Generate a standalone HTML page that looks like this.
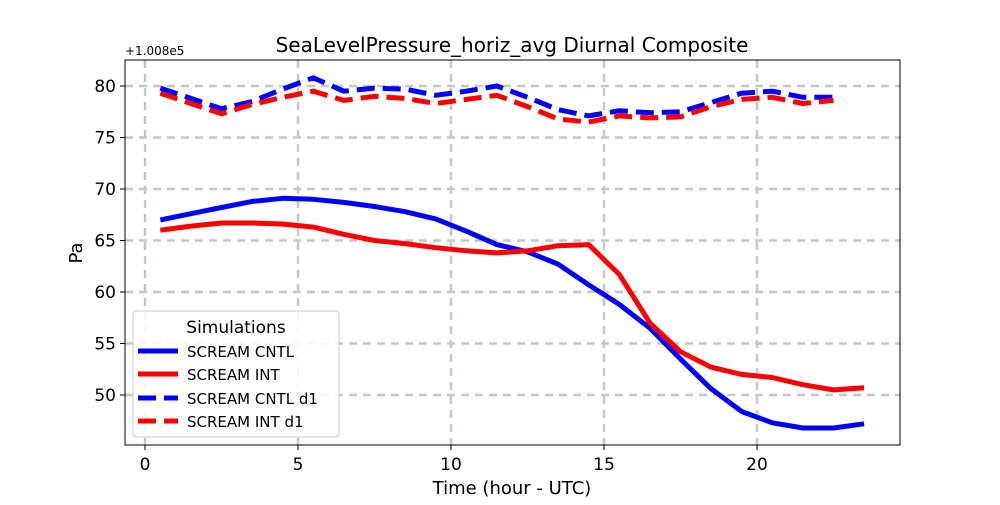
<!DOCTYPE html>
<html><head><meta charset="utf-8"><style>
body{margin:0;background:#fff;font-family:"Liberation Sans","DejaVu Sans",sans-serif}
svg text{font-family:"DejaVu Sans","Liberation Sans",sans-serif}
</style></head><body>
<svg id="c" width="1000" height="500" xmlns="http://www.w3.org/2000/svg"></svg>
<script>
const hours=[0.5,1.5,2.5,3.5,4.5,5.5,6.5,7.5,8.5,9.5,10.5,11.5,12.5,13.5,14.5,15.5,16.5,17.5,18.5,19.5,20.5,21.5,22.5,23.5];
const cntl=[67.0,67.6,68.2,68.8,69.1,69.0,68.7,68.3,67.8,67.1,65.9,64.6,63.9,62.7,60.7,58.8,56.5,53.5,50.6,48.4,47.3,46.8,46.8,47.2];
const intr=[66.0,66.4,66.7,66.7,66.6,66.3,65.6,65.0,64.7,64.3,64.0,63.8,64.0,64.5,64.6,61.7,57.0,54.2,52.7,52.0,51.7,51.0,50.5,50.7];
const cntlD1=[79.8,78.8,77.8,78.5,79.7,80.8,79.5,79.8,79.7,79.1,79.5,80.0,78.9,77.7,77.1,77.6,77.4,77.5,78.4,79.3,79.5,78.9,78.9];
const intD1=[79.3,78.3,77.3,78.2,78.9,79.5,78.6,79.0,78.8,78.3,78.7,79.1,78.0,76.8,76.5,77.1,76.9,77.0,78.0,78.7,78.9,78.3,78.6];
const xTicks=[0,5,10,15,20];
const yTicks=[50,55,60,65,70,75,80];
const NS='http://www.w3.org/2000/svg';
const svg=document.getElementById('c');
const L=125,R=900,T=60,B=445;
const X=h=>145+h*30.6;
const Y=v=>86+(80-v)*10.3;
function el(t,a,p){const e=document.createElementNS(NS,t);for(const k in a)e.setAttribute(k,a[k]);(p||svg).appendChild(e);return e;}
xTicks.forEach(t=>{
 const g=el('line',{x1:X(t),x2:X(t),y1:T,y2:B,stroke:'#c0caca',"stroke-width":2.5,"stroke-dasharray":"8,6"});
 
 
 const tk=el('line',{x1:X(t),x2:X(t),y1:B,y2:B+5,stroke:'#000'});
 
 
 const tx=el('text',{x:X(t),y:B+25,"text-anchor":"middle","font-size":17});
 tx.textContent=t;
 
 
});
yTicks.forEach(t=>{
 const g=el('line',{x1:L,x2:R,y1:Y(t),y2:Y(t),stroke:'#c0caca',"stroke-width":2.5,"stroke-dasharray":"8,6"});
 
 
 const tk=el('line',{x1:L-5,x2:L,y1:Y(t),y2:Y(t),stroke:'#000'});
 
 
 const tx=el('text',{x:L-9,y:Y(t)+6,"text-anchor":"end","font-size":17});
 tx.textContent=t;
 
 
});
function line(vals,color,dash,name){
 const d=vals.map((v,i)=>(i?'L':'M')+X(hours[i]).toFixed(1)+','+Y(v).toFixed(1)).join(' ');
 const p=el('path',{d:d,fill:'none',stroke:color,"stroke-width":5,"stroke-linejoin":"round"});
 if(dash)p.setAttribute('stroke-dasharray','18,8');
 
 
}
line(cntl,'#0000ff',false,'scream-cntl-line');
line(intr,'#ff0000',false,'scream-int-line');
line(cntlD1,'#0000ff',true,'scream-cntl-d1-line');
line(intD1,'#ff0000',true,'scream-int-d1-line');
const fr=el('rect',{x:L,y:T,width:R-L,height:B-T,fill:'none',stroke:'#000',"stroke-width":1});


</script>
<svg width="1000" height="500" style="position:absolute;left:0;top:0" xmlns="http://www.w3.org/2000/svg">
<text x="512" y="52" text-anchor="middle" font-size="20">SeaLevelPressure_horiz_avg Diurnal Composite</text>
<text x="125" y="55" font-size="12">+1.008e5</text>
<text x="512" y="494" text-anchor="middle" font-size="18">Time (hour - UTC)</text>
<text transform="translate(82,253) rotate(-90)" text-anchor="middle" font-size="18">Pa</text>
<g>
<rect x="133" y="311" width="206" height="126" rx="3" fill="#fff" fill-opacity="0.85" stroke="#ccc"/>
<text x="236" y="333" text-anchor="middle" font-size="17">Simulations</text>
<g><line x1="138" x2="178" y1="351" y2="351" stroke="#0000ff" stroke-width="5"/><text x="187" y="357" font-size="15">SCREAM CNTL</text></g>
<g><line x1="138" x2="178" y1="374" y2="374" stroke="#ff0000" stroke-width="5"/><text x="187" y="380" font-size="15">SCREAM INT</text></g>
<g><line x1="138" x2="178" y1="398" y2="398" stroke="#0000ff" stroke-width="5" stroke-dasharray="18,8"/><text x="187" y="404" font-size="15">SCREAM CNTL d1</text></g>
<g><line x1="138" x2="178" y1="421" y2="421" stroke="#ff0000" stroke-width="5" stroke-dasharray="18,8"/><text x="187" y="427" font-size="15">SCREAM INT d1</text></g>
</g>
</svg>
</body></html>
